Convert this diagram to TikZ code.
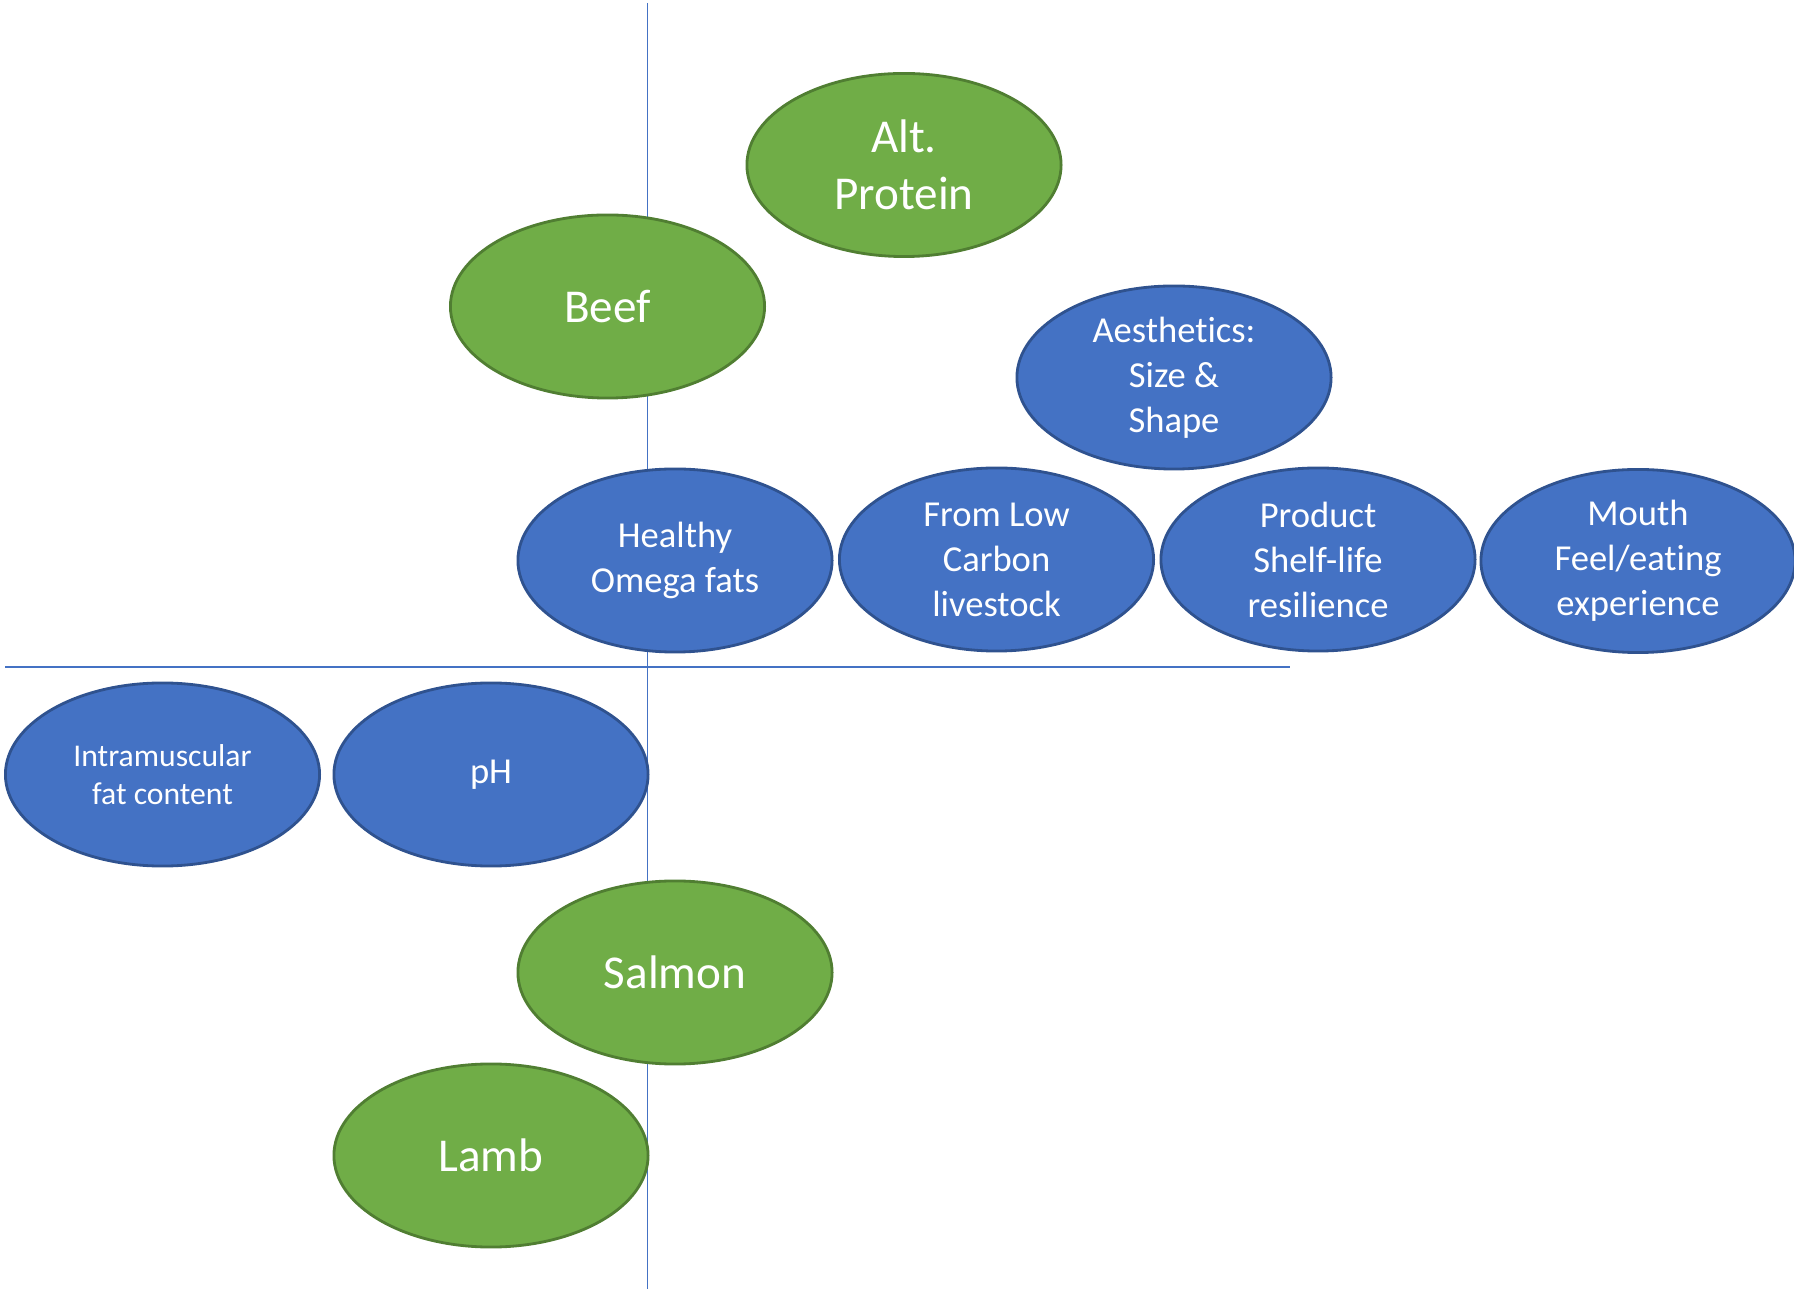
\documentclass[tikz,border=0pt]{standalone}
\usepackage{fontspec}
\setmainfont{Carlito}[Ligatures=NoCommon]
\usepackage{xcolor}
\usetikzlibrary{shapes.geometric}

\definecolor{leafgreen}{HTML}{70AD47}
\definecolor{leafedge}{HTML}{507E32}
\definecolor{traitblue}{HTML}{4472C4}
\definecolor{traitedge}{HTML}{2F528F}

\begin{document}
\begin{tikzpicture}[
  x=0.01cm, y=-0.01cm,
  meat/.style={ellipse, draw=leafedge, fill=leafgreen, line width=0.8pt, minimum width=3.14cm, minimum height=1.83cm, inner sep=0pt, align=center, text=white, font=\fontsize{13.4}{16.3}\selectfont},
  trait/.style={ellipse, draw=traitedge, fill=traitblue, line width=0.8pt, minimum width=3.14cm, minimum height=1.83cm, inner sep=0pt, align=center, text=white, font=\fontsize{10.4}{12.8}\selectfont},
  axis/.style={draw=traitblue, line width=0.4pt}
]
\useasboundingbox (0,0) rectangle (1794,1289);
% axes
\draw[axis] (647.5,3) -- (647.5,1289);
\draw[axis] (5,667) -- (1290,667);
% products
\node[meat] (alt) at (904,165) {Alt.\\Protein};
\node[meat] (beef) at (607.5,306.5) {Beef};
\node[meat] (salmon) at (675,972.5) {Salmon};
\node[meat] (lamb) at (491,1155.5) {Lamb};
% attributes
\node[trait] (aesth) at (1174,377.5) {Aesthetics:\\Size \&\\Shape};
\node[trait] (omega) at (675,560.5) {Healthy\\Omega fats};
\node[trait] (carbon) at (996.5,559.5) {From Low\\Carbon\\livestock};
\node[trait] (shelf) at (1318,559.5) {Product\\Shelf-life\\resilience};
\node[trait] (mouth) at (1638,561) {Mouth\\Feel/eating\\experience};
\node[trait, font=\fontsize{9}{10.8}\selectfont] (imf) at (162.5,774.5) {Intramuscular\\fat content};
\node[trait] (ph) at (491,774.5) {pH};
\end{tikzpicture}
\end{document}
